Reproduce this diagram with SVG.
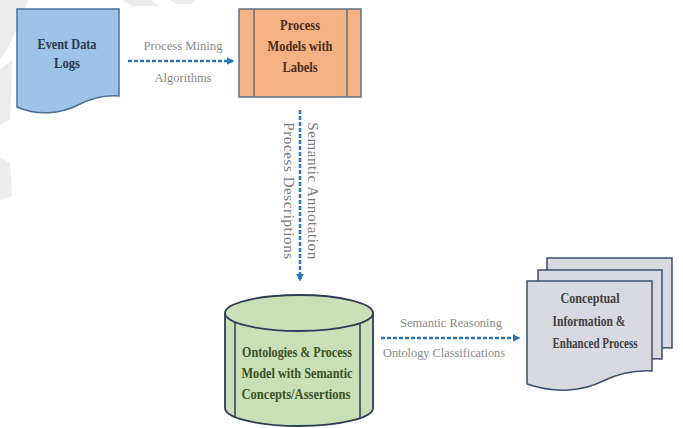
<svg xmlns="http://www.w3.org/2000/svg" width="683" height="428" viewBox="0 0 683 428">
<defs>
<style>
.node text{font-family:"Liberation Serif","DejaVu Serif",serif;font-weight:bold;font-size:14px;text-anchor:middle}
.lbl{font-family:"Liberation Serif","DejaVu Serif",serif;font-size:13.5px;fill:#8a8a8a;text-anchor:middle}
.vlbl{font-family:"Liberation Serif","DejaVu Serif",serif;font-size:15px;fill:#7a7a7a;text-anchor:middle;dominant-baseline:central;letter-spacing:0.6px}
.conn{fill:none;stroke:#2e75b6;stroke-width:2.5;stroke-dasharray:4 2}
.bg{fill:#ececec}
</style>
<marker id="ah" viewBox="0 0 10 10" refX="8" refY="5" markerWidth="3.2" markerHeight="3.2" orient="auto" markerUnits="strokeWidth">
<path d="M0,0 L10,5 L0,10 Z" fill="#2e75b6"/>
</marker>
</defs>
<rect width="683" height="428" fill="#ffffff"/>
<g id="background">
<polygon class="bg" points="0,0 28,0 12,40 0,60"/>
<polygon class="bg" points="0,70 12,60 10,120 0,125"/>
<polygon class="bg" points="122,0 150,0 160,6 132,6"/>
<polygon class="bg" points="170,0 195,0 192,4 176,4"/>
<polygon class="bg" points="0,157 10,163 12,196 0,200"/>
</g>
<g id="connectors">
<path class="conn" d="M128,61 H233" marker-end="url(#ah)"/>
<path class="conn" d="M300,110 V280" marker-end="url(#ah)"/>
<path class="conn" d="M381,338 H519" marker-end="url(#ah)"/>
<text class="lbl" x="183" y="50" textLength="79" lengthAdjust="spacingAndGlyphs">Process Mining</text>
<text class="lbl" x="183" y="82" textLength="57" lengthAdjust="spacingAndGlyphs">Algorithms</text>
<text class="vlbl" transform="translate(313,191) rotate(90)">Semantic Annotation</text>
<text class="vlbl" transform="translate(289,191) rotate(90)">Process Descriptions</text>
<text class="lbl" x="451" y="327" textLength="102" lengthAdjust="spacingAndGlyphs">Semantic Reasoning</text>
<text class="lbl" x="444" y="357" textLength="122" lengthAdjust="spacingAndGlyphs">Ontology Classifications</text>
</g>
<g id="event-data-logs" class="node">
<path d="M17,9 H119 V96 C105,95 92,98 78,105 C60,114 38,116 17,107 Z" fill="#9dc3e6" stroke="#4a7199" stroke-width="1.5"/>
<text x="67" y="49" fill="#2b3a4f" textLength="59" lengthAdjust="spacingAndGlyphs">Event Data</text>
<text x="67" y="68" fill="#2b3a4f" textLength="26" lengthAdjust="spacingAndGlyphs">Logs</text>
</g>
<g id="process-models" class="node">
<rect x="239" y="9" width="122" height="88" fill="#f4b183" stroke="#5f7089" stroke-width="1.5"/>
<line x1="254" y1="9" x2="254" y2="97" stroke="#5f7089" stroke-width="1.5"/>
<line x1="347" y1="9" x2="347" y2="97" stroke="#5f7089" stroke-width="1.5"/>
<text x="300" y="30" fill="#4a2e1a" textLength="40" lengthAdjust="spacingAndGlyphs">Process</text>
<text x="300" y="51" fill="#4a2e1a" textLength="65" lengthAdjust="spacingAndGlyphs">Models with</text>
<text x="300" y="72" fill="#4a2e1a" textLength="35" lengthAdjust="spacingAndGlyphs">Labels</text>
</g>
<g id="ontologies" class="node">
<path d="M225,313 V408 A74,18 0 0 0 373,408 V313" fill="#c9e0b6" stroke="#2e3c57" stroke-width="1.8"/>
<ellipse cx="299" cy="313" rx="74" ry="18" fill="#c9e0b6" stroke="#2e3c57" stroke-width="1.8"/>
<line x1="235" y1="322" x2="235" y2="417" stroke="#2e3c57" stroke-width="1.5"/>
<line x1="360" y1="323" x2="360" y2="418" stroke="#2e3c57" stroke-width="1.5"/>
<text x="297" y="357" fill="#3d5226" textLength="110" lengthAdjust="spacingAndGlyphs">Ontologies &amp; Process</text>
<text x="297" y="378" fill="#3d5226" textLength="111" lengthAdjust="spacingAndGlyphs">Model with Semantic</text>
<text x="296" y="399" fill="#3d5226" textLength="109" lengthAdjust="spacingAndGlyphs">Concepts/Assertions</text>
</g>
<g id="conceptual-info" class="node">
<path d="M547,258 H672 V348 C655,347 640,350 625,358 C605,368 580,370 547,360 Z" fill="#d9dae1" stroke="#3d4e70" stroke-width="1.5"/>
<path d="M538,270 H662 V359 C645,358 630,361 615,369 C595,379 570,381 538,371 Z" fill="#d9dae1" stroke="#3d4e70" stroke-width="1.5"/>
<path d="M527,281 H652 V371 C635,370 620,373 603,381 C583,391 556,394 527,384 Z" fill="#d9dae1" stroke="#3d4e70" stroke-width="1.5"/>
<text x="590" y="303" fill="#404040" textLength="59" lengthAdjust="spacingAndGlyphs">Conceptual</text>
<text x="589" y="326" fill="#404040" textLength="73" lengthAdjust="spacingAndGlyphs">Information &amp;</text>
<text x="595" y="348" fill="#404040" textLength="85" lengthAdjust="spacingAndGlyphs">Enhanced Process</text>
</g>
</svg>
